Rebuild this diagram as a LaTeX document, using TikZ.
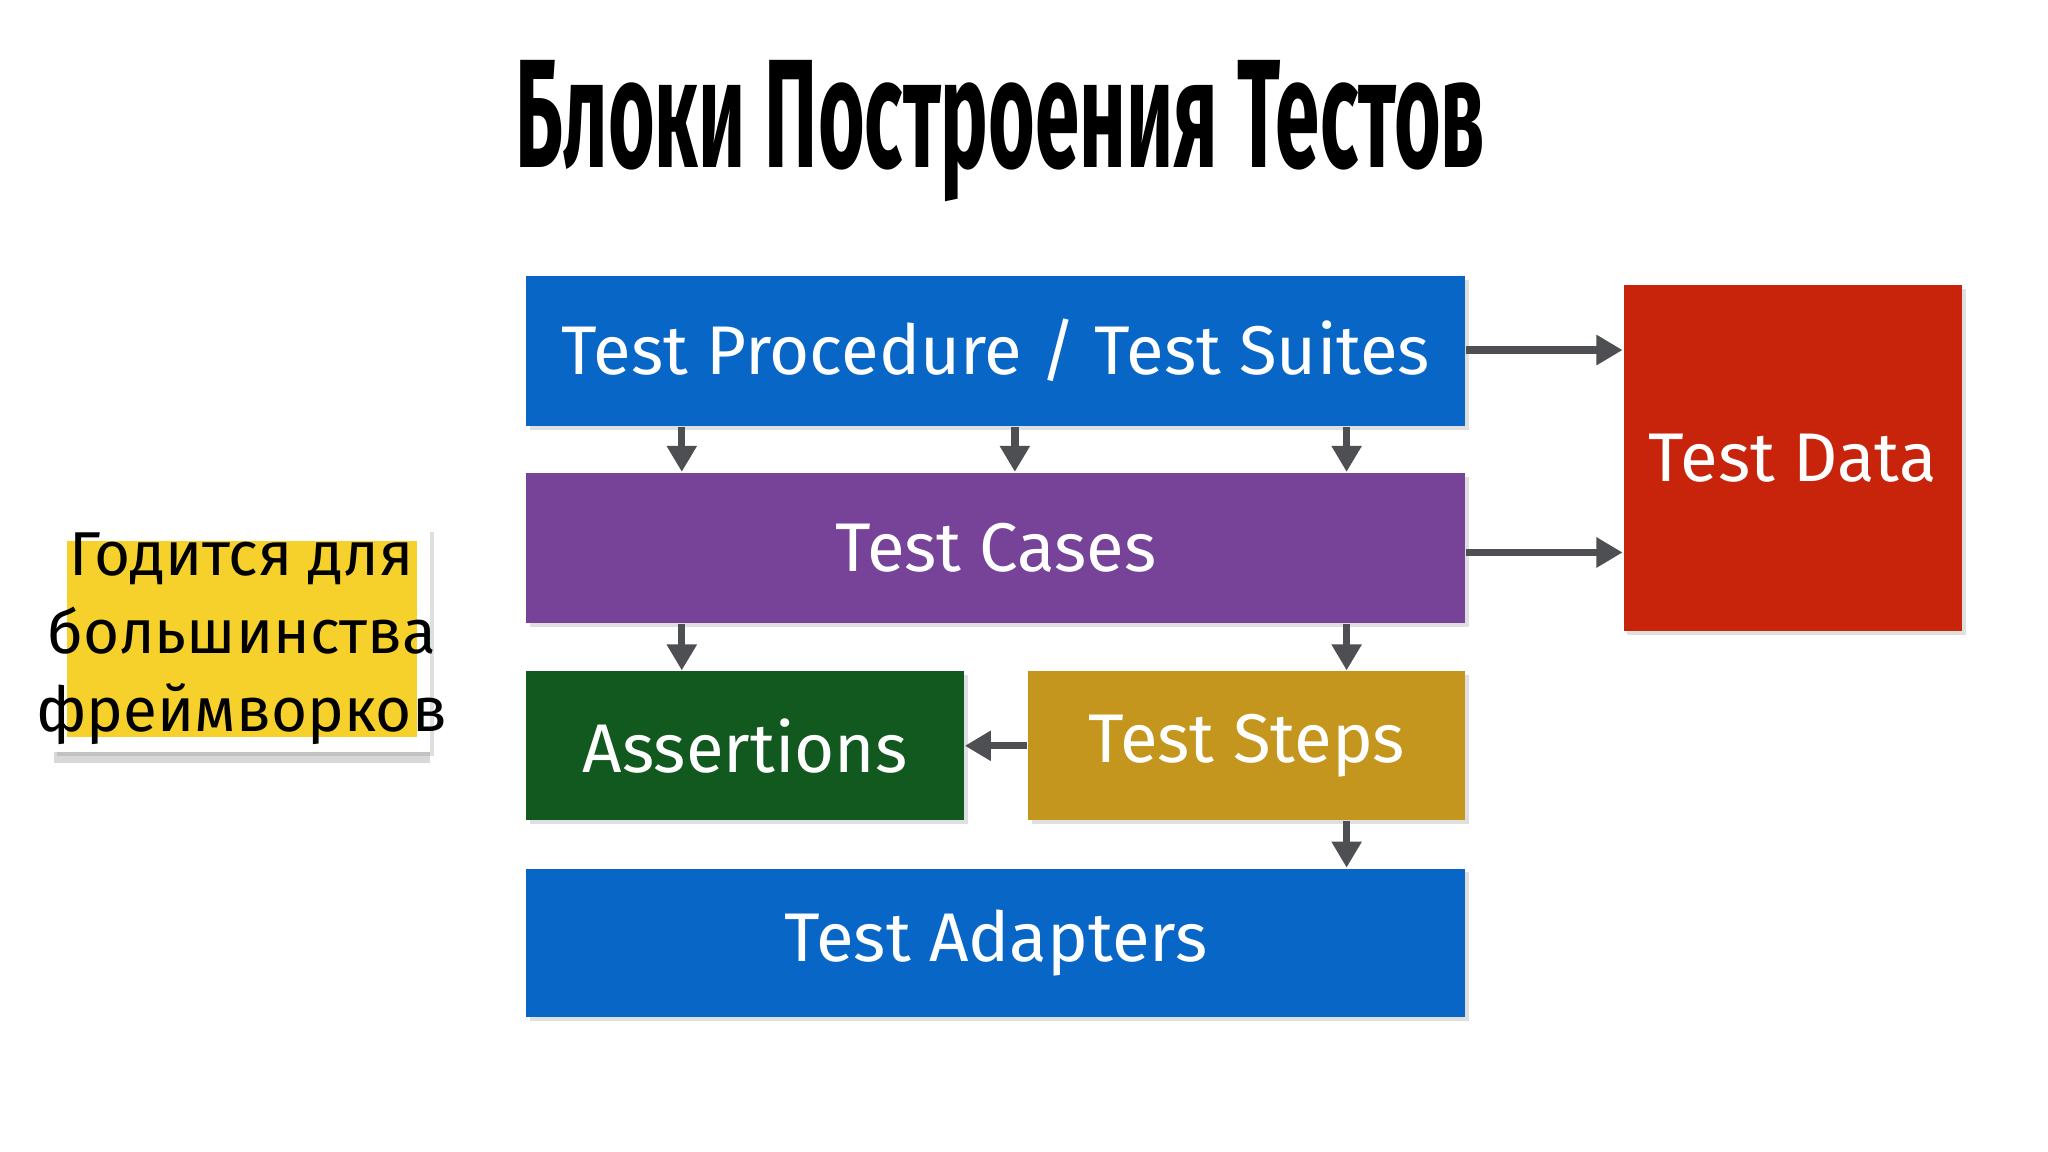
\documentclass[tikz,border=0pt]{standalone}
\usepackage{fontspec}
\setmainfont{Fira Sans}
\usetikzlibrary{fit,shadows,arrows.meta}
\definecolor{tblue}{HTML}{0766C6}
\definecolor{tpurple}{HTML}{764399}
\definecolor{tgreen}{HTML}{11591E}
\definecolor{tgold}{HTML}{C4961D}
\definecolor{tred}{HTML}{C8240B}
\definecolor{tyellow}{HTML}{F6D02B}
\definecolor{arrgray}{HTML}{4D4F53}
\tikzset{
  blk/.style={inner sep=0pt, draw=none, drop shadow={shadow xshift=0.03cm, shadow yshift=-0.03cm, opacity=0.25}},
  lbl/.style={text=white, font=\fontsize{15}{18}\selectfont},
  arr/.style={draw=arrgray, line width=1.6pt, -{Triangle[length=0.2cm,width=0.22cm]}}
}
\begin{document}
\begin{tikzpicture}[x=0.01cm,y=-0.01cm]
\useasboundingbox (0,0) rectangle (1568,882);
\fill[white] (0,0) rectangle (1568,882);
\node (title) at (766,100) {\resizebox{7.42cm}{0.82cm}{\bfseries Блоки Построения Тестов}};
\node[blk, fill=tblue, fit={(403,211)(1122,326)}] (tp) {};
\node[lbl] at (tp.center) {Test Procedure / Test Suites};
\node[blk, fill=tpurple, fit={(403,362)(1122,477)}] (tc) {};
\node[lbl] at (tc.center) {Test Cases};
\node[blk, fill=tgreen, fit={(403,514)(738,628)}] (as) {};
\node[lbl] at (as.center) {Assertions};
\node[blk, fill=tgold, fit={(787,514)(1122,628)}] (ts) {};
\node[lbl] at (ts.center) {Test Steps};
\node[blk, fill=tblue, fit={(403,665)(1122,779)}] (ta) {};
\node[lbl] at (ta.center) {Test Adapters};
\node[blk, fill=tred, fit={(1243,218)(1502,483)}] (td) {};
\node[lbl] at (td.center) {Test Data};
% note
\node[blk, fill=white, drop shadow={shadow xshift=0cm, shadow yshift=-0.08cm, opacity=0.3}, fit={(41,404)(329,576)}] (frame) {};
\node[inner sep=0pt, fill=tyellow, fit={(51,414)(319,564)}] (note) {};
\node[align=center, font=\fontsize{13.5}{17}\selectfont] at (note.center) {Годится для\\большинства\\фреймворков};
% arrows
\coordinate (x1) at (522,0);
\coordinate (x2) at (777,0);
\coordinate (x3) at (1031,0);
\coordinate (y1) at (0,268);
\coordinate (y2) at (0,423);
\coordinate (y3) at (0,571);
\draw[arr] (tp.south -| x1) -- (tc.north -| x1);
\draw[arr] (tp.south -| x2) -- (tc.north -| x2);
\draw[arr] (tp.south -| x3) -- (tc.north -| x3);
\draw[arr] (tc.south -| x1) -- (as.north -| x1);
\draw[arr] (tc.south -| x3) -- (ts.north -| x3);
\draw[arr] (ts.west |- y3) -- (as.east |- y3);
\draw[arr] (ts.south -| x3) -- (ta.north -| x3);
\draw[arr] (tp.east |- y1) -- (td.west |- y1);
\draw[arr] (tc.east |- y2) -- (td.west |- y2);
\end{tikzpicture}
\end{document}
